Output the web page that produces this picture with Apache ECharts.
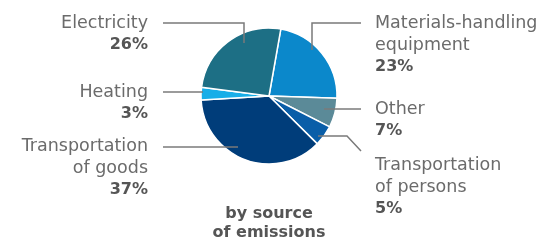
<!DOCTYPE html>
<html><head><meta charset="utf-8">
<script src="https://cdn.jsdelivr.net/npm/echarts@6/dist/echarts.min.js"></script>
<style>html,body{margin:0;padding:0;background:#fff}#c{width:554px;height:242px}</style>
</head><body><div id="c"></div>
<script>
const categories = ['Materials-handling\nequipment', 'Other', 'Transportation\nof persons', 'Transportation\nof goods', 'Heating', 'Electricity'];
const values = [23, 7, 5, 37, 3, 26];
const subtitle = 'by source\nof emissions';

const colors = ['#0b88cb', '#5b8a98', '#0a5ea8', '#003d7a', '#18aee8', '#1d6f85'];
// label placement (annotation layout)
const labelPos = [
  {x: 375, y: 12, align: 'left'},
  {x: 375, y: 98, align: 'left'},
  {x: 375, y: 154, align: 'left'},
  {x: 148, y: 135, align: 'right'},
  {x: 148, y: 81, align: 'right'},
  {x: 148, y: 12, align: 'right'}
];
const leaderLines = [
  [[361,23],[312,23],[312,50]],
  [[361,109],[324,109]],
  [[361,151],[347,136],[318,136]],
  [[163,147],[238,147]],
  [[163,92],[203,92]],
  [[163,23],[244,23],[244,43]]
];
const FONT = 'DejaVu Sans';
const chart = echarts.init(document.getElementById('c'), null, {renderer: 'canvas'});
chart.setOption({
  animation: false,
  title: {
    text: subtitle, left: 264, top: 199, textAlign: 'center',
    textStyle: {fontFamily: FONT, fontSize: 16, fontWeight: 'bold', color: '#555', lineHeight: 19}
  },
  graphic: leaderLines.map(p => ({
    type: 'polyline', shape: {points: p}, z: 10,
    style: {stroke: '#7a7a7a', lineWidth: 1.5, fill: null}
  })),
  series: [{
    type: 'pie',
    center: [269, 96],
    radius: 68,
    startAngle: 80,
    clockwise: true,
    data: categories.map((c, i) => ({name: c, value: values[i], itemStyle: {color: colors[i]}})),
    itemStyle: {borderColor: '#fff', borderWidth: 1.5},
    label: {
      show: true,
      formatter: p => p.name.split('\n').map(s => '{n|' + s + '}').join('\n') + '\n{p|' + p.value + '%}',
      rich: {
        n: {fontFamily: FONT, fontSize: 17.5, color: '#6b6b6b', lineHeight: 22},
        p: {fontFamily: FONT, fontSize: 16, fontWeight: 'bold', color: '#555', lineHeight: 22}
      }
    },
    labelLine: {show: false},
    labelLayout: params => {
      const l = labelPos[params.dataIndex];
      return {x: l.x, y: l.y, align: l.align, verticalAlign: 'top'};
    },
    emphasis: {disabled: true}
  }]
});
</script></body></html>
